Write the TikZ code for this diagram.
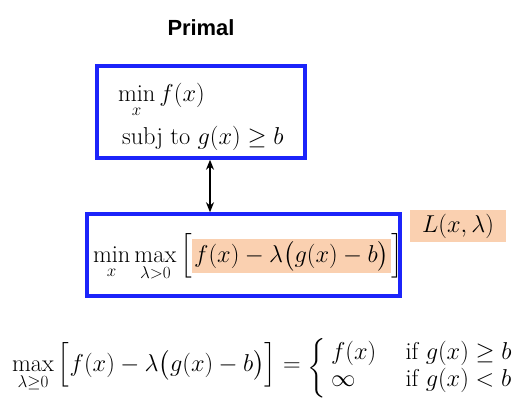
\RequirePackage{fix-cm}
\documentclass[tikz,border=0pt]{standalone}
\usepackage{amsmath}
\usepackage{fontspec}
\usetikzlibrary{arrows.meta}
\newfontfamily\primalfont{Liberation Sans}
\definecolor{boxblue}{RGB}{28,36,250}
\definecolor{peach}{RGB}{250,208,176}
\begin{document}
\begin{tikzpicture}[x=1bp,y=-1bp,
  every node/.style={inner sep=0pt, outer sep=0pt},
  mathtext/.style={font=\fontsize{24.5}{29}\selectfont},
  bluebox/.style={draw=boxblue, line width=3.5bp, outer sep=1.75bp},
  dualarrow/.style={<->, line width=1.8bp, >={Stealth[length=10bp,width=8bp]}}]
\useasboundingbox (0,0) rectangle (529,405);
\node[font=\primalfont\bfseries\fontsize{22}{26}\selectfont] (title) at (201,28) {Primal};
\node[bluebox, minimum width=208bp, minimum height=92bp] (primal) at (201,112) {};
\node[mathtext, anchor=base west] (obj) at (118,101) {$\displaystyle\min_x f(x)$};
\node[mathtext, anchor=base west] (cons) at (122,144.5) {subj to $g(x)\ge b$};
\node[bluebox, minimum width=313bp, minimum height=82bp] (lag) at (243.5,255) {};
\node[mathtext, anchor=base west] (lagexpr) at (93,262)
  {\setlength{\fboxsep}{2bp}$\displaystyle\min_x \max_{\lambda>0}\Big[\colorbox{peach}{$f(x)-\lambda\big(g(x)-b\big)$}\Big]$};
\node[mathtext, fill=peach, minimum width=96bp, minimum height=32bp] (lfun) at (458,226) {$L(x,\lambda)$};
\coordinate (ax) at (210,0);
\draw[dualarrow] (primal.south -| ax) -- (lag.north -| ax);
\node[mathtext, anchor=base west] (dual) at (12,371)
  {\renewcommand{\arraystretch}{0.93}$\displaystyle \max_{\lambda\ge0}\Big[f(x)-\lambda\big(g(x)-b\big)\Big] = \raisebox{-3bp}{$\displaystyle\left\{\begin{array}{l@{\hspace{1.2em}}l} f(x) & \text{if } g(x)\ge b\\ \infty & \text{if } g(x)<b\end{array}\right.$}$};
\end{tikzpicture}
\end{document}
